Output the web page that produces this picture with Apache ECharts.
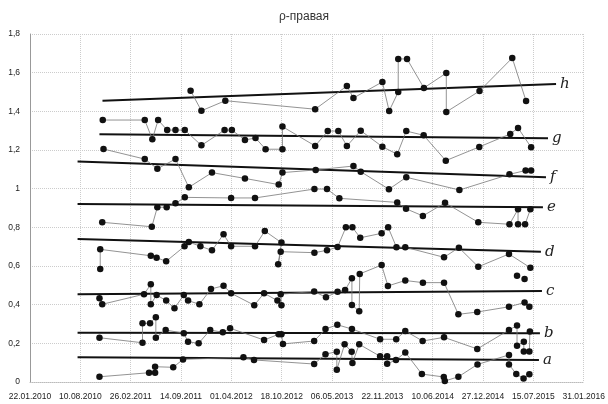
<!DOCTYPE html>
<html>
<head>
<meta charset="utf-8">
<script src="https://cdn.jsdelivr.net/npm/echarts@6/dist/echarts.min.js"></script>
<style>
  html, body { margin: 0; padding: 0; background: #fff; }
  #chart { width: 608px; height: 404px; }
</style>
</head>
<body>
<div id="chart"></div>
<script>
// x values are spreadsheet date serials (days since 30.12.1899)
const xMin = 40200;   // 22.01.2010
const xMax = 42400;   // 31.01.2016
const xStep = 200;

const yTicks = [0, 0.2, 0.4, 0.6, 0.8, 1, 1.2, 1.4, 1.6, 1.8];

const seriesNames = ['a', 'b', 'c', 'd', 'e', 'f', 'g', 'h'];

const seriesH = [
  [40838, 1.507], [40881, 1.403], [40976, 1.455], [41333, 1.411], [41459, 1.531],
  [41485, 1.469], [41600, 1.552], [41627, 1.402], [41663, 1.500], [41663, 1.671],
  [41698, 1.671], [41765, 1.521], [41854, 1.598], [41854, 1.397], [41986, 1.505],
  [42116, 1.676], [42171, 1.453]
];
const seriesG = [
  [40489, 1.355], [40656, 1.355], [40686, 1.255], [40709, 1.355], [40745, 1.303],
  [40778, 1.303], [40815, 1.303], [40881, 1.224], [40973, 1.303], [41002, 1.303],
  [41054, 1.252], [41096, 1.262], [41136, 1.204], [41203, 1.204], [41203, 1.321],
  [41333, 1.221], [41383, 1.298], [41425, 1.298], [41459, 1.221], [41514, 1.300],
  [41600, 1.217], [41659, 1.178], [41695, 1.298], [41764, 1.276], [41852, 1.145],
  [41985, 1.216], [42108, 1.283], [42139, 1.314], [42191, 1.214]
];
const seriesF = [
  [40492, 1.205], [40656, 1.153], [40706, 1.103], [40778, 1.153], [40831, 1.007],
  [40923, 1.083], [41054, 1.053], [41188, 1.021], [41203, 1.083], [41335, 1.097],
  [41485, 1.117], [41514, 1.088], [41626, 0.997], [41695, 1.059], [41906, 0.993],
  [42105, 1.074], [42169, 1.094], [42191, 1.094]
];
const seriesE = [
  [40487, 0.826], [40684, 0.803], [40706, 0.904], [40743, 0.904], [40778, 0.924],
  [40815, 0.955], [40999, 0.952], [41094, 0.952], [41330, 0.998], [41380, 0.998],
  [41429, 0.950], [41659, 0.929], [41694, 0.896], [41761, 0.859], [41849, 0.927],
  [41981, 0.826], [42105, 0.816], [42139, 0.893], [42139, 0.816], [42167, 0.816],
  [42188, 0.893]
];
const seriesD = [
  [40479, 0.584], [40479, 0.686], [40680, 0.653], [40703, 0.643], [40741, 0.624],
  [40814, 0.702], [40831, 0.724], [40877, 0.702], [40923, 0.681], [40969, 0.764],
  [40999, 0.702], [41094, 0.702], [41133, 0.781], [41199, 0.721], [41186, 0.609],
  [41196, 0.674], [41330, 0.669], [41380, 0.681], [41422, 0.698], [41455, 0.800],
  [41481, 0.800], [41512, 0.746], [41597, 0.769], [41623, 0.800], [41656, 0.697],
  [41691, 0.697], [41845, 0.645], [41904, 0.695], [41981, 0.596], [42103, 0.662],
  [42188, 0.591]
];
const seriesDLoose = [[42135, 0.550], [42165, 0.533]];
const seriesC = [
  [40476, 0.433], [40487, 0.402], [40653, 0.454], [40680, 0.505], [40680, 0.402],
  [40703, 0.450], [40741, 0.421], [40774, 0.381], [40811, 0.450], [40828, 0.421],
  [40873, 0.402], [40919, 0.481], [40969, 0.498], [40999, 0.459], [41091, 0.397],
  [41130, 0.459], [41183, 0.421], [41199, 0.397], [41196, 0.454], [41329, 0.468],
  [41376, 0.438], [41422, 0.467], [41452, 0.476], [41479, 0.536], [41479, 0.398],
  [41508, 0.366], [41510, 0.559], [41597, 0.605], [41622, 0.497], [41691, 0.525],
  [41761, 0.514], [41845, 0.514], [41902, 0.350], [41977, 0.362], [42103, 0.389],
  [42165, 0.411], [42184, 0.389]
];
const seriesB = [
  [40476, 0.229], [40647, 0.203], [40647, 0.304], [40677, 0.304], [40700, 0.335],
  [40700, 0.229], [40739, 0.269], [40811, 0.252], [40828, 0.208], [40870, 0.200],
  [40916, 0.269], [40966, 0.257], [40995, 0.278], [41130, 0.217], [41188, 0.247],
  [41199, 0.247], [41205, 0.197], [41329, 0.212], [41374, 0.274], [41421, 0.296],
  [41479, 0.274], [41591, 0.221], [41655, 0.221], [41691, 0.264], [41760, 0.212],
  [41845, 0.231], [41977, 0.171], [42103, 0.269], [42135, 0.292], [42135, 0.188],
  [42162, 0.208], [42162, 0.158], [42184, 0.158], [42186, 0.261]
];
const seriesA = [
  [40476, 0.027], [40673, 0.048], [40697, 0.048], [40697, 0.079], [40769, 0.076],
  [40808, 0.117], [41048, 0.128], [41090, 0.114], [41329, 0.093], [41374, 0.144],
  [41419, 0.157], [41419, 0.064], [41450, 0.195], [41478, 0.157], [41481, 0.098],
  [41508, 0.195], [41591, 0.133], [41619, 0.133], [41619, 0.094], [41654, 0.114],
  [41691, 0.153], [41757, 0.041], [41844, 0.026], [41848, 0.005], [41902, 0.027],
  [41978, 0.091], [42103, 0.140], [42103, 0.091], [42132, 0.041], [42161, 0.018],
  [42184, 0.040]
];

// hand-ruled trend lines: start and end of each
const trendH = [[40488, 1.455], [42290, 1.541]];
const trendG = [[40476, 1.281], [42258, 1.261]];
const trendF = [[40389, 1.140], [42250, 1.059]];
const trendE = [[40389, 0.921], [42238, 0.904]];
const trendD = [[40389, 0.740], [42230, 0.674]];
const trendC = [[40389, 0.454], [42234, 0.471]];
const trendB = [[40389, 0.255], [42226, 0.252]];
const trendA = [[40389, 0.128], [42222, 0.114]];

const pointSets = [seriesA, seriesB, seriesC, seriesD, seriesE, seriesF, seriesG, seriesH];
const trendSets = [trendA, trendB, trendC, trendD, trendE, trendF, trendG, trendH];

function serialToText(v) {
  const d = new Date(Date.UTC(1899, 11, 30) + Math.round(v) * 86400000);
  const dd = String(d.getUTCDate()).padStart(2, '0');
  const mm = String(d.getUTCMonth() + 1).padStart(2, '0');
  return dd + '.' + mm + '.' + d.getUTCFullYear();
}

const chart = echarts.init(document.getElementById('chart'), null, { renderer: 'canvas' });

const series = [];
seriesNames.forEach(function (name, i) {
  series.push({
    name: name + '-points',
    type: 'line',
    data: pointSets[i],
    symbol: 'circle',
    symbolSize: 6.5,
    showAllSymbol: true,
    itemStyle: { color: '#111' },
    lineStyle: { color: '#777', width: 0.8 },
    z: 3
  });
  series.push({
    name: name,
    type: 'line',
    data: trendSets[i],
    symbol: 'none',
    lineStyle: { color: '#111', width: 2 },
    endLabel: {
      show: true,
      formatter: name,
      fontFamily: 'DejaVu Serif',
      fontStyle: 'italic',
      fontSize: 15,
      color: '#222',
      distance: 4
    },
    z: 2
  });
});
series.push({
  name: 'd-loose',
  type: 'scatter',
  data: seriesDLoose,
  symbol: 'circle',
  symbolSize: 6.5,
  itemStyle: { color: '#111', opacity: 1 },
  z: 3
});

chart.setOption({
  animation: false,
  backgroundColor: '#fff',
  title: {
    text: 'ρ-правая',
    left: 'center',
    top: 6,
    textStyle: { fontFamily: 'Liberation Sans', fontSize: 12, fontWeight: 'normal', color: '#333' }
  },
  grid: { left: 30, right: 20, top: 34, bottom: 22, containLabel: false },
  xAxis: {
    type: 'value',
    min: xMin,
    max: xMax,
    interval: xStep,
    axisLine: { show: true, lineStyle: { color: '#bbb', type: 'dotted' } },
    axisTick: { show: false },
    splitLine: { show: true, lineStyle: { color: '#ccc', type: 'dotted', width: 1 } },
    axisLabel: {
      formatter: serialToText,
      fontFamily: 'Liberation Sans',
      fontSize: 8.5,
      color: '#222',
      margin: 10,
      showMinLabel: true,
      showMaxLabel: true
    }
  },
  yAxis: {
    type: 'value',
    min: yTicks[0],
    max: yTicks[yTicks.length - 1],
    interval: 0.2,
    axisLine: { show: true, lineStyle: { color: '#999' } },
    axisTick: { show: false },
    splitLine: { show: true, lineStyle: { color: '#ccc', type: 'dotted', width: 1 } },
    axisLabel: {
      formatter: function (v) { return String(+v.toFixed(1)).replace('.', ','); },
      fontFamily: 'Liberation Sans',
      fontSize: 8.5,
      color: '#222',
      margin: 10
    }
  },
  series: series
});
</script>
</body>
</html>
